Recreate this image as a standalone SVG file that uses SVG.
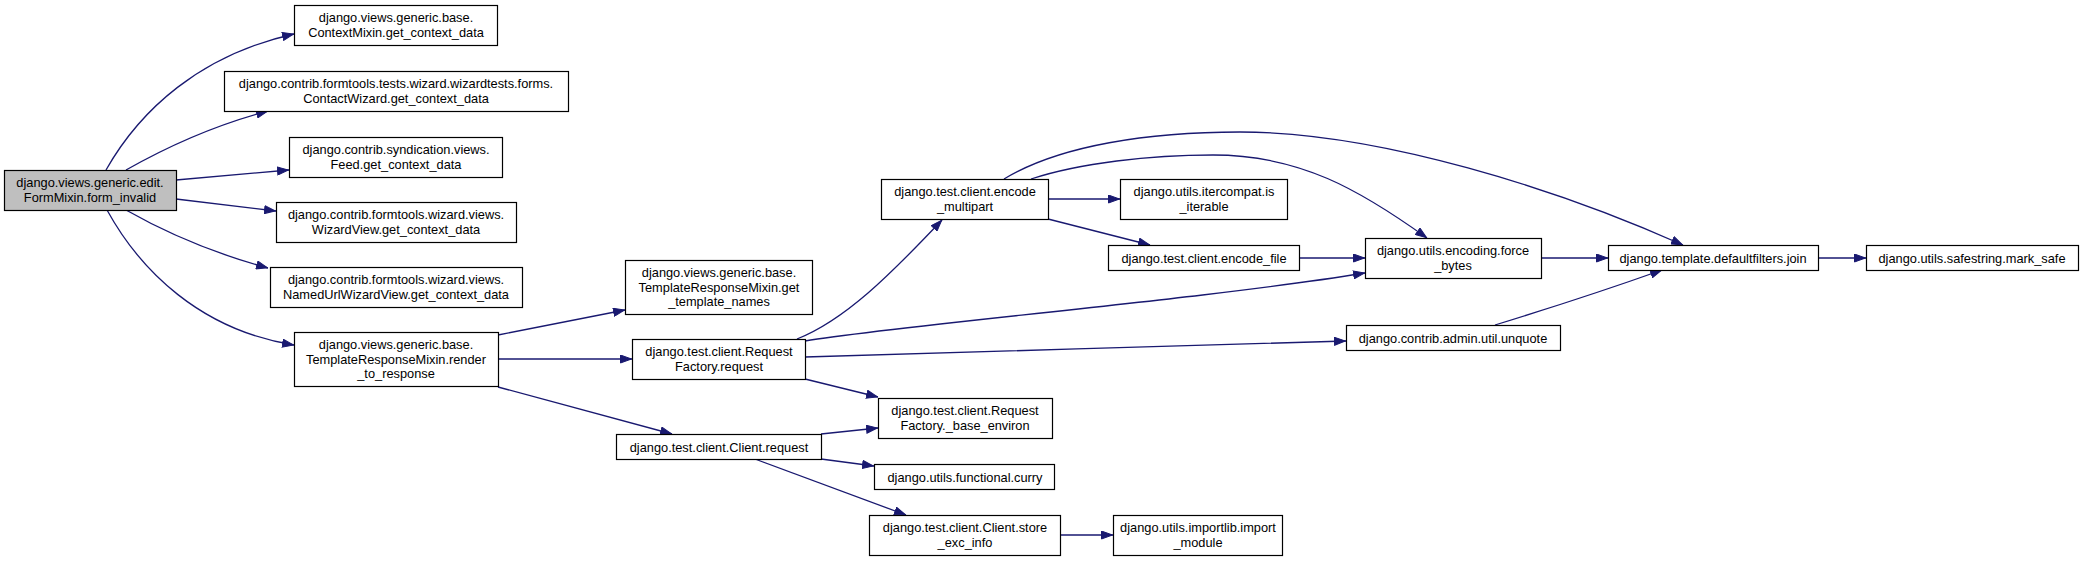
<svg xmlns="http://www.w3.org/2000/svg" width="2084" height="561" viewBox="0 0 2084 561">
<defs>
<style>
.n rect{fill:#ffffff;stroke:#000000;stroke-width:1.2}
.n.root rect{fill:#bfbfbf}
.n text{font-family:"Liberation Sans",Arial,sans-serif;font-size:12.8px;fill:#000000;text-anchor:middle}
#edges path{fill:none;stroke:#191970;stroke-width:1.3;marker-end:url(#ah)}
</style>
<marker id="ah" viewBox="0 0 12 9" refX="12" refY="4.5" markerWidth="12" markerHeight="9" markerUnits="userSpaceOnUse" orient="auto">
<polygon points="0.5,0.5 11.5,4.5 0.5,8.5" fill="#191970" stroke="#191970" stroke-width="1"/>
</marker>
</defs>
<rect width="2084" height="561" fill="#ffffff"/>
<g id="edges">
<path d="M106,170 C140,110 200,55 294,34"/>
<path d="M126,170 C170,145 215,125 268,111"/>
<path d="M176,180 L289,170"/>
<path d="M176,199 L276,211"/>
<path d="M126,210 C170,235 220,255 268,268"/>
<path d="M107,210 C140,270 200,330 294,345"/>
<path d="M498,335 L625,310"/>
<path d="M498,359 L632,359"/>
<path d="M498,387 L672,434"/>
<path d="M797,339 C845,320 890,275 942,220"/>
<path d="M805,341 C900,325 1200,300 1365,273"/>
<path d="M805,357 C950,353 1200,345 1346,341"/>
<path d="M805,379 L878,397"/>
<path d="M821,434 L878,428"/>
<path d="M821,459 L874,466"/>
<path d="M755,459 L906,515"/>
<path d="M1060,535 L1113,535"/>
<path d="M1004,179 C1060,145 1150,132 1240,132 C1380,132 1560,190 1683,245"/>
<path d="M1031,179 C1080,163 1150,155 1213,155 C1300,155 1360,190 1427,238"/>
<path d="M1048,199 L1120,199"/>
<path d="M1048,219 L1150,245"/>
<path d="M1299,258 L1365,258"/>
<path d="M1541,258 L1608,258"/>
<path d="M1495,325 C1560,305 1620,285 1662,270"/>
<path d="M1818,258 L1866,258"/>
</g>
<g id="n0" class="n root"><rect x="4.5" y="170.5" width="172" height="40"/><text x="90" y="187">django.views.generic.edit.</text><text x="90" y="201.5">FormMixin.form_invalid</text></g>
<g id="n1" class="n"><rect x="294.5" y="5.5" width="203" height="40"/><text x="396" y="22">django.views.generic.base.</text><text x="396" y="36.5">ContextMixin.get_context_data</text></g>
<g id="n2" class="n"><rect x="224.5" y="71.5" width="344" height="40"/><text x="396" y="88">django.contrib.formtools.tests.wizard.wizardtests.forms.</text><text x="396" y="102.5">ContactWizard.get_context_data</text></g>
<g id="n3" class="n"><rect x="289.5" y="137.5" width="213" height="40"/><text x="396" y="154">django.contrib.syndication.views.</text><text x="396" y="168.5">Feed.get_context_data</text></g>
<g id="n4" class="n"><rect x="276.5" y="202.5" width="240" height="40"/><text x="396" y="219">django.contrib.formtools.wizard.views.</text><text x="396" y="233.5">WizardView.get_context_data</text></g>
<g id="n5" class="n"><rect x="270.5" y="267.5" width="252" height="40"/><text x="396" y="284">django.contrib.formtools.wizard.views.</text><text x="396" y="298.5">NamedUrlWizardView.get_context_data</text></g>
<g id="n6" class="n"><rect x="294.5" y="332.5" width="204" height="54"/><text x="396" y="349">django.views.generic.base.</text><text x="396" y="363.5">TemplateResponseMixin.render</text><text x="396" y="378">_to_response</text></g>
<g id="n7" class="n"><rect x="625.5" y="260.5" width="187" height="54"/><text x="719" y="277">django.views.generic.base.</text><text x="719" y="291.5">TemplateResponseMixin.get</text><text x="719" y="306">_template_names</text></g>
<g id="n8" class="n"><rect x="632.5" y="339.5" width="173" height="40"/><text x="719" y="356">django.test.client.Request</text><text x="719" y="370.5">Factory.request</text></g>
<g id="n9" class="n"><rect x="616.5" y="434.5" width="205" height="25"/><text x="719" y="451.5">django.test.client.Client.request</text></g>
<g id="n10" class="n"><rect x="881.5" y="179.5" width="167" height="40"/><text x="965" y="196">django.test.client.encode</text><text x="965" y="210.5">_multipart</text></g>
<g id="n11" class="n"><rect x="878.5" y="398.5" width="174" height="40"/><text x="965" y="415">django.test.client.Request</text><text x="965" y="429.5">Factory._base_environ</text></g>
<g id="n12" class="n"><rect x="874.5" y="464.5" width="180" height="25"/><text x="965" y="481.5">django.utils.functional.curry</text></g>
<g id="n13" class="n"><rect x="869.5" y="515.5" width="191" height="40"/><text x="965" y="532">django.test.client.Client.store</text><text x="965" y="546.5">_exc_info</text></g>
<g id="n14" class="n"><rect x="1113.5" y="515.5" width="169" height="40"/><text x="1198" y="532">django.utils.importlib.import</text><text x="1198" y="546.5">_module</text></g>
<g id="n15" class="n"><rect x="1120.5" y="179.5" width="167" height="40"/><text x="1204" y="196">django.utils.itercompat.is</text><text x="1204" y="210.5">_iterable</text></g>
<g id="n16" class="n"><rect x="1108.5" y="245.5" width="191" height="25"/><text x="1204" y="262.5">django.test.client.encode_file</text></g>
<g id="n17" class="n"><rect x="1365.5" y="238.5" width="176" height="40"/><text x="1453" y="255">django.utils.encoding.force</text><text x="1453" y="269.5">_bytes</text></g>
<g id="n18" class="n"><rect x="1346.5" y="325.5" width="214" height="25"/><text x="1453" y="342.5">django.contrib.admin.util.unquote</text></g>
<g id="n19" class="n"><rect x="1608.5" y="245.5" width="210" height="25"/><text x="1713" y="262.5">django.template.defaultfilters.join</text></g>
<g id="n20" class="n"><rect x="1866.5" y="245.5" width="212" height="25"/><text x="1972" y="262.5">django.utils.safestring.mark_safe</text></g>
</svg>
